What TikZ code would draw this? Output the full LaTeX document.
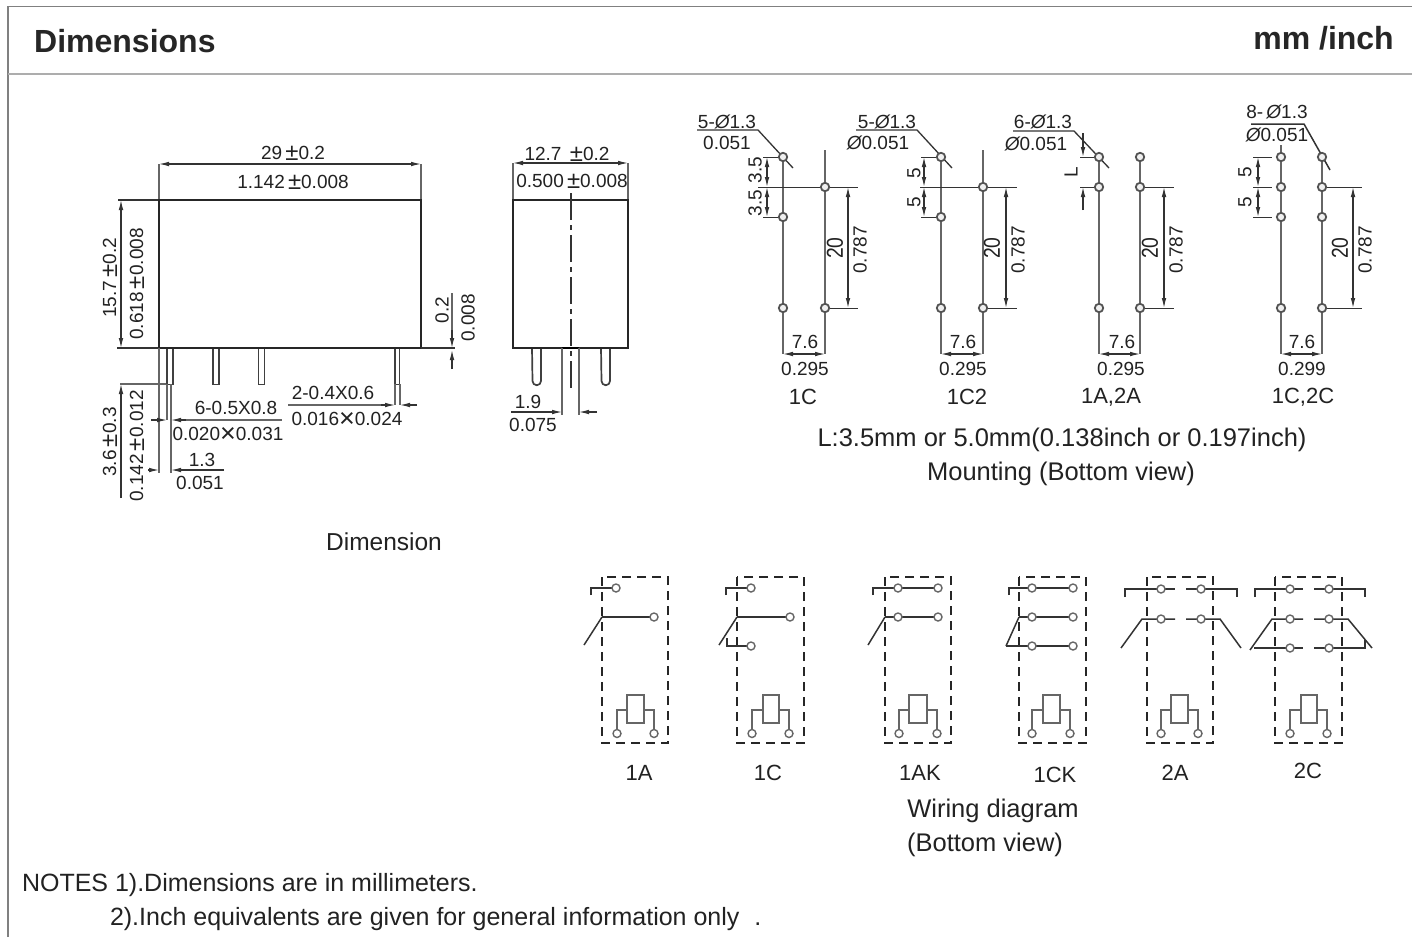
\documentclass[tikz,border=0pt]{standalone}
\usepackage{fontspec}
\setmainfont{Liberation Sans}
\usetikzlibrary{arrows.meta}
\definecolor{ink}{HTML}{222222}
\definecolor{lin}{HTML}{333333}
\definecolor{gry}{HTML}{666666}
\tikzset{
  lb/.style={inner sep=0pt,outer sep=0pt,text=ink,font=\fontsize{19}{19}\selectfont},
  lbm/.style={lb,font=\fontsize{22}{22}\selectfont},
  lbb/.style={lb,font=\fontsize{23}{23}\selectfont},
  lbl/.style={lb,font=\fontsize{25.5}{26}\selectfont},
  head/.style={inner sep=0pt,text=black!85,font=\fontsize{32}{32}\selectfont\bfseries},
  body/.style={draw=black!85,line width=2pt},
  dimline/.style={draw=lin,line width=1.1pt},
  thinline/.style={draw=lin,line width=0.9pt},
  extline/.style={draw=gry,line width=1.2pt},
  arrs/.style={{Latex[length=10pt,width=4.6pt]}-{Latex[length=10pt,width=4.6pt]},dimline},
  arre/.style={-{Latex[length=10pt,width=4.6pt]},dimline},
  colline/.style={draw=gry,line width=1.5pt},
  hole/.style={draw=black!68,line width=1.8pt,fill=white!88!gray},
  wdash/.style={draw=black!85,line width=1.7pt,dash pattern=on 9pt off 6pt},
  wire/.style={draw=black!80,line width=1.5pt},
  wthin/.style={draw=gry,line width=1.3pt},
  wcirc/.style={draw=gry,line width=1.4pt,fill=white},
}
\newcount\autoname
\newcommand\tx[4][lb]{\global\advance\autoname by 1 \node[#1] (t\the\autoname) at (#2,#3) {#4};}
\newcommand\pmm{\,\raisebox{-1.2pt}{\fontsize{24}{24}\selectfont ±}}
\newcommand\tms{\raisebox{-2.6pt}{\fontsize{27}{19}\selectfont ×}}
\newcommand\twenty{\scalebox{.84}[1]{20}}
\newcommand\wf[2]{\draw[wdash] (#1,577) rectangle (#2,743);}
\newcommand\cc[2]{\draw[wcirc] (#1,#2) circle (4);}
\newcommand\coil[4]{%
  \draw[wthin] (#1,710) -- (#3,710) -- (#3,730);
  \draw[wthin] (#2,710) -- (#4,710) -- (#4,730);
  \draw[wthin,line width=1.5pt] (#1,695) rectangle (#2,723);
  \cc{#3}{733.5}\cc{#4}{733.5}}
\newcommand\mbase[4]{% xl xr xdim xext
  \draw[thinline] (#2,187) -- (#4,187);
  \draw[thinline] (#2,308) -- (#4,308);
  \draw[arrs] (#3,187) -- (#3,308);
  \draw[arrs] (#1,354) -- (#2,354);}
\begin{document}
\begin{tikzpicture}[x=1pt,y=-1pt]
\useasboundingbox (0,0) rectangle (1412,937);
\fill[white] (0,0) rectangle (1412,937);
% frame
\draw[draw=black!50,line width=1.5pt] (8,937) -- (8,6.5) -- (1412,6.5);
\draw[draw=black!32,line width=2pt] (8,73.5) -- (1412,73.5);
\tx[head,anchor=west]{34}{41}{Dimensions}
\tx[head,anchor=east]{1394}{38}{mm /inch}
% ---------- front view
\draw[extline] (159,164) -- (159,200);
\draw[extline] (421,164) -- (421,200);
\draw[arrs] (159,164) -- (421,164);
\tx{293}{153}{29\pmm0.2}
\tx{293}{182}{1.142\pmm0.008}
\draw[dimline] (118,200) -- (159,200);
\draw[dimline] (117,348) -- (159,348);
\draw[arrs] (121,200) -- (121,348);
\tx[lb,rotate=90]{110}{278}{15.7\pmm0.2}
\tx[lb,rotate=90]{137}{284}{0.618\pmm0.008}
\draw[extline] (120,384) -- (167,384);
\draw[arre] (121,498) -- (121,384);
\tx[lb,rotate=90]{110}{442}{3.6\pmm0.3}
\tx[lb,rotate=90]{137}{446}{0.142\pmm0.012}
% pins
\draw[draw=black!75,line width=1.7pt] (167,348) -- (167,384.5) -- (173,384.5) -- (173,348);
\draw[draw=black!75,line width=1.7pt] (213,348) -- (213,384.5) -- (219,384.5) -- (219,348);
\draw[draw=black!75,line width=1.7pt] (258.5,348) -- (258.5,384.5) -- (264.5,384.5) -- (264.5,348);
\draw[draw=black!75,line width=1.7pt] (395,348) -- (395,384.5) -- (399.5,384.5) -- (399.5,348);
\draw[body] (159,200) rectangle (421,348);
\draw[extline] (159,348) -- (159,473);
\draw[extline] (167,384) -- (167,420);
\draw[extline,line width=1.6pt] (171,384) -- (171,473);
\draw[extline] (395,384) -- (395,405);
\draw[extline] (400,384) -- (400,405);
% 6-0.5X0.8
\draw[extline] (182,420) -- (282,420);
\draw[arre] (151,420) -- (167,420);
\draw[arre] (186,420) -- (171,420);
\tx{236}{408}{6-0.5X0.8}
\tx{228}{435}{0.020\tms0.031}
% 2-0.4X0.6
\draw[extline] (288,405) -- (382,405);
\draw[arre] (381,405) -- (395,405);
\draw[arre] (417,405) -- (400,405);
\tx{333}{393}{2-0.4X0.6}
\tx{347}{420}{0.016\tms0.024}
% 1.3
\draw[arre] (148,470) -- (159,470);
\draw[arre] (224,470) -- (171,470);
\tx{202}{460}{1.3}
\tx{200}{483}{0.051}
% 0.2
\draw[dimline] (421,348) -- (455,348);
\draw[extline] (452,293) -- (452,330);
\draw[arre] (452,330) -- (452,348);
\draw[arre] (452,369) -- (452,350);
\tx[lb,rotate=90]{442}{310}{0.2}
\tx[lb,rotate=90]{468}{318}{0.008}
% ---------- side view
\draw[extline] (513,163) -- (513,200);
\draw[extline] (628,163) -- (628,200);
\draw[arrs] (513,163) -- (628,163);
\tx{567}{154}{12.7 \pmm0.2}
\tx{572}{181}{0.500\pmm0.008}
\draw[draw=black!75,line width=1.7pt] (532,348) -- (532.5,381) arc (180:0:4.25) -- (541,348);
\draw[draw=black!75,line width=1.7pt] (601,348) -- (601.5,381) arc (180:0:4.25) -- (610,348);
\draw[body] (513,348) -- (513,200) -- (628,200) -- (628,348) -- cycle;
\draw[draw=black,line width=2.6pt] (562,348) -- (579,348);
\draw[draw=lin,line width=1.1pt,dash pattern=on 27pt off 5pt on 5pt off 5pt] (571,193) -- (571,392);
\draw[extline,line width=1.5pt] (562,348) -- (562,415);
\draw[extline,line width=1.5pt] (579,348) -- (579,415);
\draw[dimline] (511,412) -- (553,412);
\draw[arre] (549,412) -- (562,412);
\draw[arre] (597,412) -- (579,412);
\tx{528}{402}{1.9}
\tx{533}{425}{0.075}
% ---------- mounting 1C
\draw[colline] (783,157) -- (783,354);
\draw[colline] (825,150) -- (825,354);
\draw[thinline] (758,187) -- (858,187);
\draw[thinline] (763,157) -- (783,157);
\draw[thinline] (763,217) -- (783,217);
\draw[arrs] (767,157) -- (767,187);
\draw[arrs] (767,187) -- (767,217);
\mbase{783}{825}{848}{858}
\draw[dimline,line width=1.3pt] (697,130) -- (758,130) -- (793,168);
\foreach \p in {(783,157),(783,217),(783,308),(825,187),(825,308)} \draw[hole] \p circle (4.2);
\tx[lb,rotate=90]{755}{170}{3.5}
\tx[lb,rotate=90]{755}{203}{3.5}
\tx[lbb,rotate=90]{835}{248}{\twenty}
\tx[lb,rotate=90]{860}{250}{0.787}
\tx{805}{342}{7.6}
\tx{805}{369}{0.295}
\tx{727}{122}{5-{\itshape Ø}1.3}
\tx{727}{143}{0.051}
\tx[lbm]{803}{397}{1C}
% ---------- mounting 1C2
\draw[colline] (941,157) -- (941,354);
\draw[colline] (983,150) -- (983,354);
\draw[thinline] (920,187) -- (1017,187);
\draw[thinline] (921,157) -- (941,157);
\draw[thinline] (921,217) -- (941,217);
\draw[arrs] (924,157) -- (924,187);
\draw[arrs] (924,187) -- (924,217);
\mbase{941}{983}{1006}{1017}
\draw[dimline,line width=1.3pt] (856,130) -- (917,130) -- (952,168);
\foreach \p in {(941,157),(941,217),(941,308),(983,187),(983,308)} \draw[hole] \p circle (4.2);
\tx[lb,rotate=90]{914}{173}{5}
\tx[lb,rotate=90]{914}{202}{5}
\tx[lbb,rotate=90]{992}{248}{\twenty}
\tx[lb,rotate=90]{1018}{250}{0.787}
\tx{963}{342}{7.6}
\tx{963}{369}{0.295}
\tx{887}{122}{5-{\itshape Ø}1.3}
\tx{878}{143}{{\itshape Ø}0.051}
\tx[lbm]{967}{397}{1C2}
% ---------- mounting 1A,2A
\draw[colline] (1099,157) -- (1099,354);
\draw[colline] (1140,157) -- (1140,354);
\draw[thinline] (1080,157) -- (1099,157);
\draw[thinline] (1080,187) -- (1099,187);
\draw[arre] (1083,133) -- (1083,157);
\draw[arre] (1083,210) -- (1083,187);
\mbase{1099}{1140}{1164}{1174}
\draw[dimline,line width=1.3pt] (1013,131) -- (1074,131) -- (1109,168);
\foreach \p in {(1099,157),(1099,187),(1099,308),(1140,157),(1140,187),(1140,308)} \draw[hole] \p circle (4.2);
\tx[lb,rotate=90]{1071}{172}{L}
\tx[lbb,rotate=90]{1150}{248}{\twenty}
\tx[lb,rotate=90]{1176}{250}{0.787}
\tx{1122}{342}{7.6}
\tx{1121}{369}{0.295}
\tx{1043}{122}{6-{\itshape Ø}1.3}
\tx{1036}{144}{{\itshape Ø}0.051}
\tx[lbm]{1111}{397}{1A,2A}
% ---------- mounting 1C,2C
\draw[colline] (1281,145) -- (1281,354);
\draw[colline] (1322,157) -- (1322,354);
\draw[thinline] (1253,157) -- (1272,157);
\draw[thinline] (1253,187) -- (1272,187);
\draw[thinline] (1253,217) -- (1272,217);
\draw[arrs] (1258,157) -- (1258,187);
\draw[arrs] (1258,187) -- (1258,217);
\mbase{1281}{1322}{1353}{1362}
\draw[dimline,line width=1.5pt] (1251,124) -- (1304,124) -- (1330,170);
\foreach \p in {(1281,157),(1281,187),(1281,217),(1281,308),(1322,157),(1322,187),(1322,217),(1322,308)} \draw[hole] \p circle (4.2);
\tx[lb,rotate=90]{1245}{172}{5}
\tx[lb,rotate=90]{1245}{202}{5}
\tx[lbb,rotate=90]{1340}{248}{\twenty}
\tx[lb,rotate=90]{1365}{250}{0.787}
\tx{1302}{342}{7.6}
\tx{1302}{369}{0.299}
\tx{1277}{112}{8-\,{\itshape Ø}1.3}
\tx{1277}{135}{{\itshape Ø}0.051}
\tx[lbm]{1303}{397}{1C,2C}
% captions
\tx[lbl]{1062}{440}{L:3.5mm or 5.0mm(0.138inch or 0.197inch)}
\tx[lbl]{1061}{474}{Mounting (Bottom view)}
\tx[lbl,font=\fontsize{24.5}{25}\selectfont]{384}{542}{Dimension}
% ---------- wiring 1A
\wf{602}{668}
\draw[wire] (591,595) -- (591,588) -- (612,588);
\cc{616}{588}
\draw[wire] (602,617) -- (651,617);
\draw[wire] (602,617) -- (584,645);
\cc{654}{617}
\coil{627}{644}{617}{654}
\tx[lbm]{639}{773}{1A}
% 1C
\wf{737}{804}
\draw[wire] (726,595) -- (726,588) -- (747,588);
\cc{751}{588}
\draw[wire] (737,617) -- (786,617);
\draw[wire] (737,617) -- (719,645);
\cc{790}{617}
\draw[wire] (727,638) -- (727,646) -- (747,646);
\cc{751}{646}
\coil{763}{779}{752}{789}
\tx[lbm]{768}{773}{1C}
% 1AK
\wf{885}{951}
\draw[wire] (873,595) -- (873,588) -- (938,588);
\cc{898}{588}\cc{938}{588}
\draw[wire] (885,617) -- (938,617);
\draw[wire] (885,617) -- (868,645);
\cc{898}{617}\cc{938}{617}
\coil{909}{927}{899}{937}
\tx[lbm]{920}{773}{1AK}
% 1CK
\wf{1019}{1086}
\draw[wire] (1009,595) -- (1009,588) -- (1073,588);
\cc{1032}{588}\cc{1073}{588}
\draw[wire] (1019,617) -- (1073,617);
\draw[wire] (1019,617) -- (1006,646);
\cc{1032}{617}\cc{1073}{617}
\draw[wire] (1006,646) -- (1073,646);
\cc{1032}{646}\cc{1073}{646}
\coil{1043}{1060}{1032}{1070}
\tx[lbm]{1055}{775}{1CK}
% 2A
\wf{1147}{1213}
\draw[wire] (1125,597) -- (1125,589) -- (1175,589);
\draw[wire] (1186,589) -- (1237,589) -- (1237,597);
\cc{1161}{589}\cc{1201}{589}
\draw[wire] (1121,648) -- (1142,619) -- (1175,619);
\draw[wire] (1186,619) -- (1220,619) -- (1241,648);
\cc{1161}{619}\cc{1201}{619}
\coil{1171}{1188}{1161}{1198}
\tx[lbm]{1175}{773}{2A}
% 2C
\wf{1275}{1342}
\draw[wire] (1255,597) -- (1255,589) -- (1303,589);
\draw[wire] (1314,589) -- (1365,589) -- (1365,597);
\cc{1290}{589}\cc{1329}{589}
\draw[wire] (1250,650) -- (1272,619) -- (1303,619);
\draw[wire] (1314,619) -- (1348,619) -- (1372,648);
\cc{1290}{619}\cc{1329}{619}
\draw[wire] (1254,648) -- (1303,648);
\draw[wire] (1314,648) -- (1365,648) -- (1365,640);
\cc{1290}{648}\cc{1329}{648}
\coil{1301}{1317}{1290}{1327}
\tx[lbm]{1308}{771}{2C}
% captions
\tx[lbl]{993}{810.5}{Wiring diagram}
\tx[lbl]{985}{845}{(Bottom view)}
\tx[lbl,font=\fontsize{25}{25}\selectfont,anchor=west]{22}{885}{NOTES 1).Dimensions are in millimeters.}
\tx[lbl,font=\fontsize{25}{25}\selectfont,anchor=west]{110}{919}{2).Inch equivalents are given for general information only\hspace{15pt}.}
\end{tikzpicture}
\end{document}
